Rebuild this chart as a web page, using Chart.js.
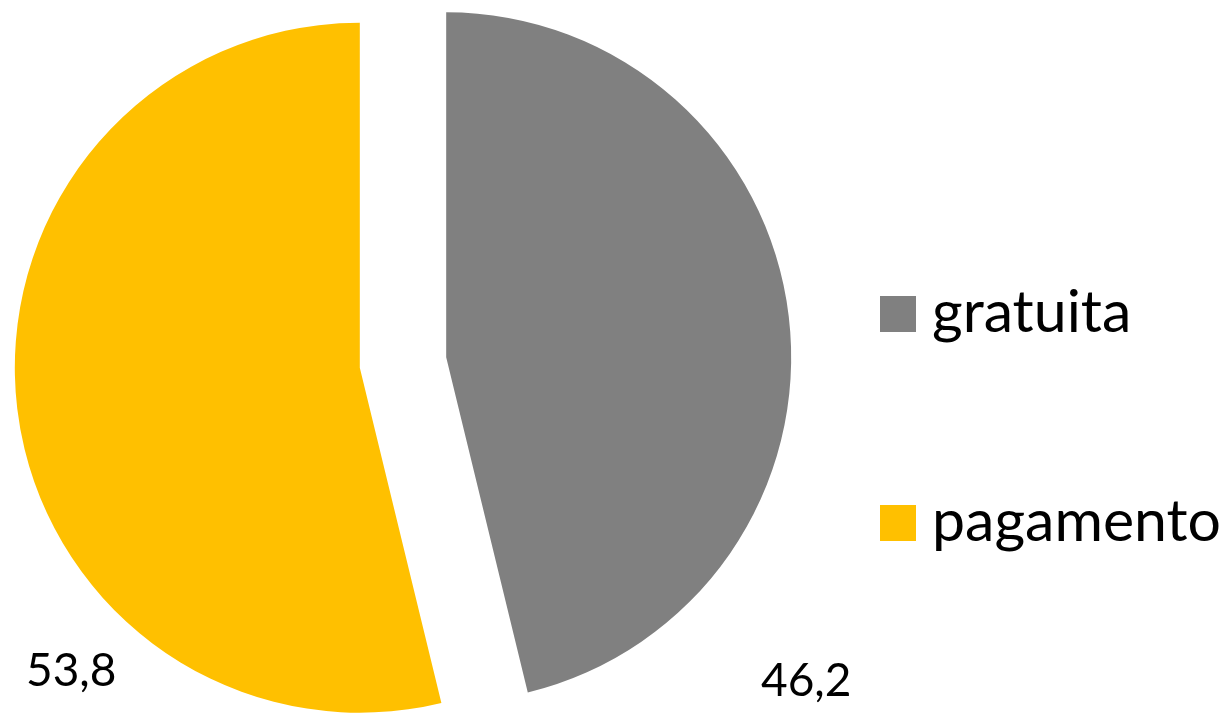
<!DOCTYPE html>
<html>
<head>
<meta charset="utf-8">
<script src="https://cdn.jsdelivr.net/npm/chart.js@4.4.1/dist/chart.umd.min.js"></script>
<style>
  html, body { margin: 0; padding: 0; background: #ffffff; }
  #wrap { position: relative; width: 1232px; height: 713px; overflow: hidden; font-family: Lato, "Open Sans", sans-serif; }
  #c { position: absolute; left: 0; top: 0; }
  .lbl { position: absolute; font-size: 46px; line-height: 46px; color: #000; white-space: nowrap; }
  .sw { position: absolute; width: 36px; height: 36px; }
  .lt { position: absolute; font-size: 59px; line-height: 59px; color: #000; white-space: nowrap; }
</style>
</head>
<body>
<div id="wrap">
  <canvas id="c" width="1232" height="713"></canvas>
</div>
<script>
const categories = ['gratuita', 'pagamento'];
const values = [46.2, 53.8];
const colors = ['#808080', '#FFC000'];

// pull every slice out along its own mid-angle, keeping the radius unchanged
const explodePlugin = {
  id: 'explode',
  afterDatasetsUpdate(chart, args, opts) {
    const d = opts.distance || 0;
    chart.getDatasetMeta(0).data.forEach(arc => {
      const mid = (arc.startAngle + arc.endAngle) / 2;
      arc.x = arc.x + Math.cos(mid) * d;
      arc.y = arc.y + Math.sin(mid) * d;
    });
  }
};

const ctx = document.getElementById('c').getContext('2d');
new Chart(ctx, {
  type: 'pie',
  data: {
    labels: categories,
    datasets: [{
      data: values,
      backgroundColor: colors,
      borderWidth: 0,
      hoverOffset: 0
    }]
  },
  options: {
    responsive: false,
    animation: false,
    radius: 345,
    events: [],
    layout: { padding: { left: 0, right: 426, top: 12, bottom: 0 } },
    plugins: {
      legend: { display: false },
      tooltip: { enabled: false },
      explode: { distance: 43.5 }
    }
  },
  plugins: [explodePlugin]
});

// data labels and legend as real text
const wrap = document.getElementById('wrap');
const fmt = v => v.toFixed(1).replace('.', ',');
const labelPos = [{ left: 761, top: 656 }, { left: 26, top: 646 }];
values.forEach((v, i) => {
  const d = document.createElement('div');
  d.className = 'lbl';
  d.textContent = fmt(v);
  d.style.left = labelPos[i].left + 'px';
  d.style.top = labelPos[i].top + 'px';
  wrap.appendChild(d);
});
const legTops = [296, 505];
categories.forEach((c, i) => {
  const sw = document.createElement('div');
  sw.className = 'sw';
  sw.style.background = colors[i];
  sw.style.left = '880px';
  sw.style.top = legTops[i] + 'px';
  wrap.appendChild(sw);
  const t = document.createElement('div');
  t.className = 'lt';
  t.textContent = c;
  t.style.left = '932px';
  t.style.top = (legTops[i] + 36 - 52) + 'px';
  wrap.appendChild(t);
});
</script>
</body>
</html>
